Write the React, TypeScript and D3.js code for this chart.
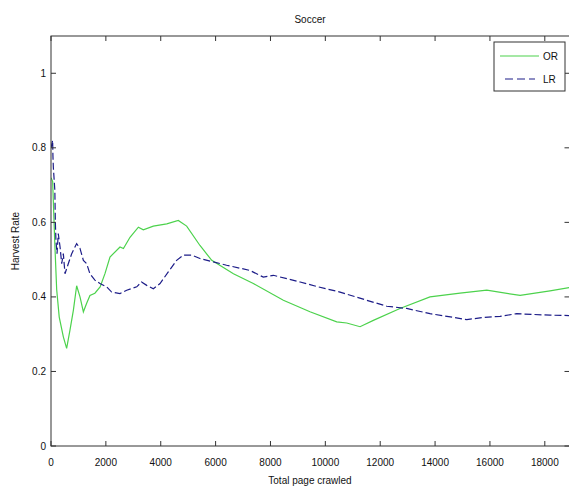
import * as d3 from 'd3';

// Harvest rate curves (x = pages crawled)
const orX = [0, 60, 135, 207, 300, 450, 570, 690, 815, 935, 1057, 1180, 1300, 1420, 1600, 1790, 1970, 2150, 2515, 2640, 2880, 3185, 3365, 3730, 4220, 4640, 4945, 5430, 5860, 6650, 7375, 8470, 9440, 10415, 10780, 11265, 11750, 12720, 13815, 14910, 15885, 17100, 18190, 18900];
const orY = [0.72, 0.71, 0.55, 0.42, 0.346, 0.293, 0.262, 0.31, 0.364, 0.43, 0.40, 0.36, 0.383, 0.404, 0.41, 0.427, 0.463, 0.507, 0.534, 0.53, 0.56, 0.587, 0.58, 0.59, 0.596, 0.605, 0.59, 0.538, 0.498, 0.462, 0.436, 0.391, 0.36, 0.333, 0.33, 0.32, 0.337, 0.369, 0.40, 0.41, 0.418, 0.404, 0.416, 0.425];

const lrX = [0, 60, 70, 85, 140, 160, 180, 220, 265, 330, 390, 450, 510, 630, 755, 935, 1057, 1180, 1300, 1420, 1600, 1785, 2030, 2210, 2515, 2760, 3125, 3300, 3490, 3730, 3975, 4275, 4580, 4825, 5130, 5430, 5915, 6400, 7255, 7740, 8105, 9080, 9685, 10535, 11510, 12240, 12965, 13815, 14670, 15155, 15760, 16370, 16975, 17585, 18190, 18900];
const lrY = [0.8, 0.82, 0.78, 0.748, 0.686, 0.597, 0.552, 0.516, 0.57, 0.534, 0.489, 0.516, 0.462, 0.489, 0.516, 0.543, 0.53, 0.498, 0.489, 0.462, 0.445, 0.436, 0.427, 0.413, 0.409, 0.418, 0.427, 0.44, 0.431, 0.422, 0.436, 0.467, 0.498, 0.512, 0.512, 0.503, 0.494, 0.485, 0.471, 0.453, 0.458, 0.44, 0.428, 0.413, 0.391, 0.375, 0.369, 0.355, 0.345, 0.339, 0.345, 0.348, 0.355, 0.353, 0.351, 0.35];

const xTicks = [0, 2000, 4000, 6000, 8000, 10000, 12000, 14000, 16000, 18000];
const yTicks = [0, 0.2, 0.4, 0.6, 0.8, 1];

const W = 569;
const H = 489;
const left = 51, right = 569.5, top = 36, bottom = 446;

const App = () => {
    const x = d3.scaleLinear().domain([0, 18900]).range([left, right]);
    const y = d3.scaleLinear().domain([0, 1.1]).range([bottom, top]);

    const line = d3.line<[number, number]>()
        .x(d => x(d[0]))
        .y(d => y(d[1]));

    const orPts = orX.map((v, i) => [v, orY[i]] as [number, number]);
    const lrPts = lrX.map((v, i) => [v, lrY[i]] as [number, number]);

    const axisColor = '#333';
    const font = 'Liberation Sans, Arial, sans-serif';

    return (
        <svg width={W} height={H} style={{ position: 'absolute', left: 0, top: 0, background: '#fff' }}
            fontFamily={font}>
            <defs>
                <clipPath id="plot">
                    <rect x={left} y={top} width={right - left} height={bottom - top} />
                </clipPath>
            </defs>
            <rect x={0} y={0} width={W} height={H} fill="#fff" />

            {/* title and labels */}
            <text x={310} y={23} textAnchor="middle" fontSize={10} fill="#111">Soccer</text>
            <text x={310} y={484} textAnchor="middle" fontSize={10} fill="#111">Total page crawled</text>
            <text transform={`translate(19,241) rotate(-90)`} textAnchor="middle" fontSize={10} fill="#111">Harvest Rate</text>

            {/* lines */}
            <g clipPath="url(#plot)">
                <path d={line(orPts) || ''} fill="none" stroke="#4cd24c" strokeWidth={1.2} />
                <path d={line(lrPts) || ''} fill="none" stroke="#1c1c88" strokeWidth={1.2} strokeDasharray="7,3" />
            </g>

            {/* box */}
            <rect x={left} y={top} width={right - left} height={bottom - top} fill="none" stroke={axisColor} strokeWidth={1} />

            {/* x ticks */}
            {xTicks.map(t => (
                <g key={'x' + t}>
                    <line x1={x(t)} x2={x(t)} y1={bottom} y2={bottom - 5} stroke={axisColor} />
                    <line x1={x(t)} x2={x(t)} y1={top} y2={top + 5} stroke={axisColor} />
                    <text x={x(t)} y={466} textAnchor="middle" fontSize={10} fill="#111">{t}</text>
                </g>
            ))}

            {/* y ticks */}
            {yTicks.map(t => (
                <g key={'y' + t}>
                    <line x1={left} x2={left + 5} y1={y(t)} y2={y(t)} stroke={axisColor} />
                    <line x1={right} x2={right - 5} y1={y(t)} y2={y(t)} stroke={axisColor} />
                    <text x={46} y={y(t) + 3.5} textAnchor="end" fontSize={10} fill="#111">{t}</text>
                </g>
            ))}

            {/* legend */}
            <rect x={494} y={42} width={71} height={49} fill="#fff" stroke={axisColor} />
            <line x1={500} x2={539} y1={56} y2={56} stroke="#4cd24c" strokeWidth={1.2} />
            <text x={543} y={60} fontSize={10} fill="#111">OR</text>
            <line x1={505} x2={535} y1={79} y2={79} stroke="#1c1c88" strokeWidth={1.2} strokeDasharray="8,4" />
            <text x={543} y={83} fontSize={10} fill="#111">LR</text>
        </svg>
    );
};

export default App;
